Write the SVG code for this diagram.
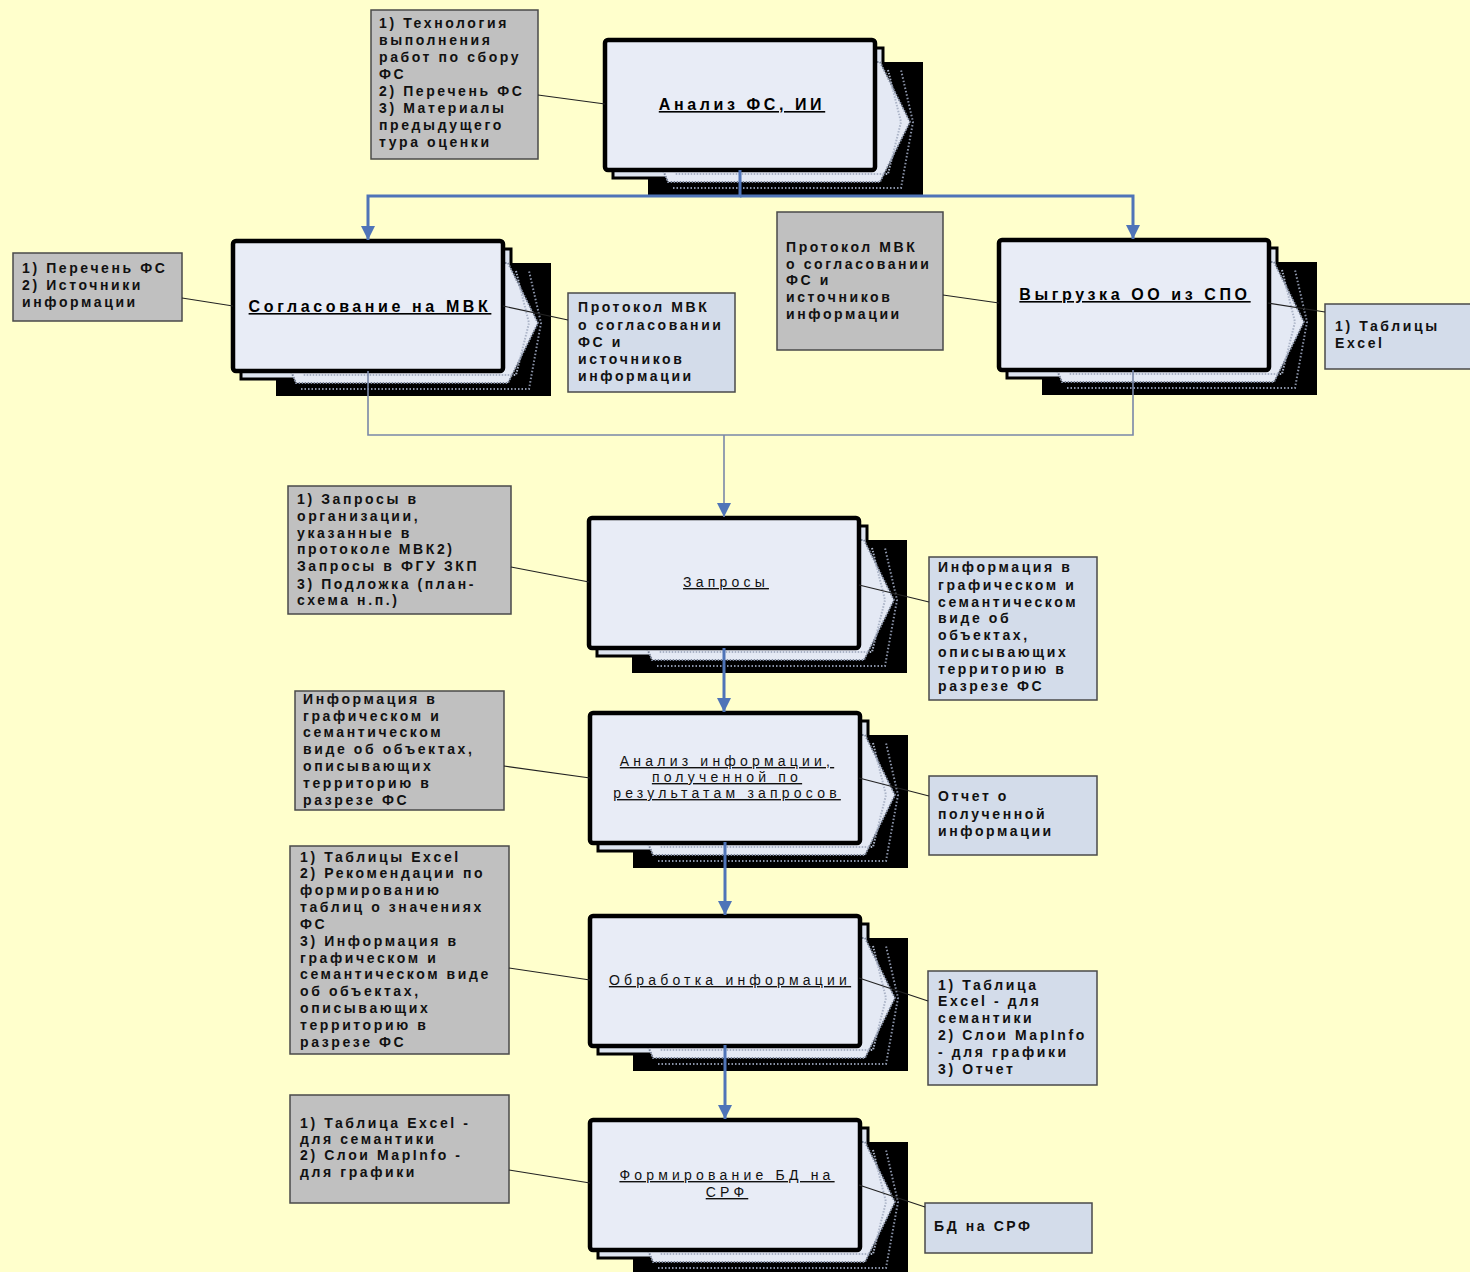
<svg xmlns="http://www.w3.org/2000/svg" xmlns:xlink="http://www.w3.org/1999/xlink" width="1470" height="1272" viewBox="0 0 1470 1272">
<style>
.bx{fill:#c0c0c0;stroke:#4a4a4a;stroke-width:1.5}
.bb{fill:#d3dcea;stroke:#4a4a4a;stroke-width:1.5}
.t{font-family:"Liberation Sans",Arial,sans-serif;font-size:14px;font-weight:bold;letter-spacing:2.6px;fill:#111}
.nt{font-family:"Liberation Sans",Arial,sans-serif;font-size:16px;font-weight:bold;letter-spacing:3.6px;fill:#000;text-anchor:middle;text-decoration:underline}
.nr{font-family:"Liberation Sans",Arial,sans-serif;font-size:14px;letter-spacing:4.2px;fill:#111;text-anchor:middle;text-decoration:underline}
.blue{fill:none;stroke:#4f74b8;stroke-width:3}
.gray{fill:none;stroke:#7a88a8;stroke-width:1.6}
.thin{fill:none;stroke:#222;stroke-width:1.2}
</style>
<defs>
<marker id="ah" markerUnits="userSpaceOnUse" markerWidth="16" markerHeight="14" refX="14" refY="7" orient="auto">
<path d="M0,0 L14,7 L0,14 z" fill="#4f74b8"/>
</marker>
<g id="stack">
<rect x="43" y="22" width="275" height="133" fill="#000"/>
<polyline points="68,148 296,148 308,82 296,30" fill="none" stroke="#8a93a8" stroke-width="2" stroke-dasharray="1.5 2"/>
<rect x="8" y="8" width="270" height="130" fill="#dde4f0" stroke="#000" stroke-width="3"/>
<polygon points="20,22 275,22 305,82 275,142 63,142 58,130" fill="#e4e9f4" stroke="#7d879c" stroke-width="2" stroke-dasharray="1.5 1.5"/>
<polyline points="283,30 296,82 283,134 70,134" fill="none" stroke="#aab3c6" stroke-width="2" stroke-dasharray="1.5 1.5"/>
<rect x="0" y="0" width="270" height="130" rx="3" fill="#e8ecf6" stroke="#000" stroke-width="4.5"/>
</g>
</defs>
<rect x="0" y="0" width="1470" height="1272" fill="#ffffcc"/>

<g id="n1" transform="translate(605,40)"><use xlink:href="#stack"/><text class="nt" x="137" y="70">Анализ ФС, ИИ</text></g>
<g id="n2" transform="translate(233,241)"><use xlink:href="#stack"/><text class="nt" x="137" y="71">Согласование на МВК</text></g>
<g id="n3" transform="translate(999,240)"><use xlink:href="#stack"/><text class="nt" x="136" y="60">Выгрузка ОО из СПО</text></g>
<g id="n4" transform="translate(589,518)"><use xlink:href="#stack"/><text class="nr" x="137" y="69">Запросы</text></g>
<g id="n5" transform="translate(590,713)"><use xlink:href="#stack"/><text class="nr" x="137"><tspan x="137" y="53">Анализ информации,</tspan><tspan x="137" y="69">полученной по</tspan><tspan x="137" y="85">результатам запросов</tspan></text></g>
<g id="n6" transform="translate(590,916)"><use xlink:href="#stack"/><text class="nr" x="140" y="69">Обработка информации</text></g>
<g id="n7" transform="translate(590,1120)"><use xlink:href="#stack"/><text class="nr" x="137"><tspan x="137" y="60">Формирование БД на</tspan><tspan x="137" y="77">СРФ</tspan></text></g>

<g id="bA"><rect class="bx" x="371" y="10" width="167" height="149"/><text class="t"><tspan x="379" y="28">1) Технология</tspan><tspan x="379" y="45">выполнения</tspan><tspan x="379" y="62">работ по сбору</tspan><tspan x="379" y="79">ФС</tspan><tspan x="379" y="96">2) Перечень ФС</tspan><tspan x="379" y="113">3) Материалы</tspan><tspan x="379" y="130">предыдущего</tspan><tspan x="379" y="147">тура оценки</tspan></text></g>
<g id="bB"><rect class="bx" x="13" y="253" width="169" height="68"/><text class="t"><tspan x="22" y="273">1) Перечень ФС</tspan><tspan x="22" y="290">2) Источники</tspan><tspan x="22" y="307">информации</tspan></text></g>
<g id="bC"><rect class="bb" x="568" y="293" width="167" height="99"/><text class="t"><tspan x="578" y="312">Протокол МВК</tspan><tspan x="578" y="330">о согласовании</tspan><tspan x="578" y="347">ФС и</tspan><tspan x="578" y="364">источников</tspan><tspan x="578" y="381">информации</tspan></text></g>
<g id="bD"><rect class="bx" x="777" y="212" width="166" height="138"/><text class="t"><tspan x="786" y="252">Протокол МВК</tspan><tspan x="786" y="269">о согласовании</tspan><tspan x="786" y="285">ФС и</tspan><tspan x="786" y="302">источников</tspan><tspan x="786" y="319">информации</tspan></text></g>
<g id="bE"><rect class="bb" x="1325" y="304" width="150" height="65"/><text class="t"><tspan x="1335" y="331">1) Таблицы</tspan><tspan x="1335" y="348">Excel</tspan></text></g>
<g id="bF"><rect class="bx" x="288" y="486" width="223" height="128"/><text class="t"><tspan x="297" y="504">1) Запросы в</tspan><tspan x="297" y="521">организации,</tspan><tspan x="297" y="538">указанные в</tspan><tspan x="297" y="554">протоколе МВК2)</tspan><tspan x="297" y="571">Запросы в ФГУ ЗКП</tspan><tspan x="297" y="589">3) Подложка (план-</tspan><tspan x="297" y="605">схема н.п.)</tspan></text></g>
<g id="bG"><rect class="bb" x="929" y="557" width="168" height="143"/><text class="t"><tspan x="938" y="572">Информация в</tspan><tspan x="938" y="590">графическом и</tspan><tspan x="938" y="607">семантическом</tspan><tspan x="938" y="623">виде об</tspan><tspan x="938" y="640">объектах,</tspan><tspan x="938" y="657">описывающих</tspan><tspan x="938" y="674">территорию в</tspan><tspan x="938" y="691">разрезе ФС</tspan></text></g>
<g id="bH"><rect class="bx" x="295" y="691" width="209" height="119"/><text class="t"><tspan x="303" y="704">Информация в</tspan><tspan x="303" y="721">графическом и</tspan><tspan x="303" y="737">семантическом</tspan><tspan x="303" y="754">виде об объектах,</tspan><tspan x="303" y="771">описывающих</tspan><tspan x="303" y="788">территорию в</tspan><tspan x="303" y="805">разрезе ФС</tspan></text></g>
<g id="bI"><rect class="bb" x="929" y="776" width="168" height="79"/><text class="t"><tspan x="938" y="801">Отчет о</tspan><tspan x="938" y="819">полученной</tspan><tspan x="938" y="836">информации</tspan></text></g>
<g id="bJ"><rect class="bx" x="290" y="846" width="219" height="208"/><text class="t"><tspan x="300" y="862">1) Таблицы Excel</tspan><tspan x="300" y="878">2) Рекомендации по</tspan><tspan x="300" y="895">формированию</tspan><tspan x="300" y="912">таблиц о значениях</tspan><tspan x="300" y="929">ФС</tspan><tspan x="300" y="946">3) Информация в</tspan><tspan x="300" y="963">графическом и</tspan><tspan x="300" y="979">семантическом виде</tspan><tspan x="300" y="996">об объектах,</tspan><tspan x="300" y="1013">описывающих</tspan><tspan x="300" y="1030">территорию в</tspan><tspan x="300" y="1047">разрезе ФС</tspan></text></g>
<g id="bK"><rect class="bb" x="928" y="971" width="169" height="114"/><text class="t"><tspan x="938" y="990">1) Таблица</tspan><tspan x="938" y="1006">Excel - для</tspan><tspan x="938" y="1023">семантики</tspan><tspan x="938" y="1040">2) Слои MapInfo</tspan><tspan x="938" y="1057">- для графики</tspan><tspan x="938" y="1074">3) Отчет</tspan></text></g>
<g id="bL"><rect class="bx" x="290" y="1095" width="219" height="108"/><text class="t"><tspan x="300" y="1128">1) Таблица Excel -</tspan><tspan x="300" y="1144">для семантики</tspan><tspan x="300" y="1160">2) Слои MapInfo  -</tspan><tspan x="300" y="1177">для графики</tspan></text></g>
<g id="bM"><rect class="bb" x="925" y="1203" width="167" height="50"/><text class="t"><tspan x="934" y="1231">БД на СРФ</tspan></text></g>

<g id="connectors">
<path class="blue" d="M740,170 V196 H368 V240" marker-end="url(#ah)"/>
<path class="blue" d="M740,196 H1133 V239" marker-end="url(#ah)"/>
<path class="gray" d="M368,371 V435 H1133 V370"/>
<path class="gray" d="M724,435 V517" marker-end="url(#ah)"/>
<path class="blue" d="M724,648 V712" marker-end="url(#ah)"/>
<path class="blue" d="M725,842 V915" marker-end="url(#ah)"/>
<path class="blue" d="M725,1045 V1119" marker-end="url(#ah)"/>
<path class="thin" d="M538,95 L605,104"/>
<path class="thin" d="M182,298 L233,306"/>
<path class="thin" d="M503,306 L568,320"/>
<path class="thin" d="M943,295 L999,303"/>
<path class="thin" d="M1268,303 L1325,312"/>
<path class="thin" d="M511,567 L589,582"/>
<path class="thin" d="M859,585 L929,602"/>
<path class="thin" d="M504,766 L590,778"/>
<path class="thin" d="M859,778 L929,796"/>
<path class="thin" d="M509,968 L590,980"/>
<path class="thin" d="M859,978 L928,1001"/>
<path class="thin" d="M509,1170 L590,1183"/>
<path class="thin" d="M859,1185 L925,1207"/>
</g>
</svg>
